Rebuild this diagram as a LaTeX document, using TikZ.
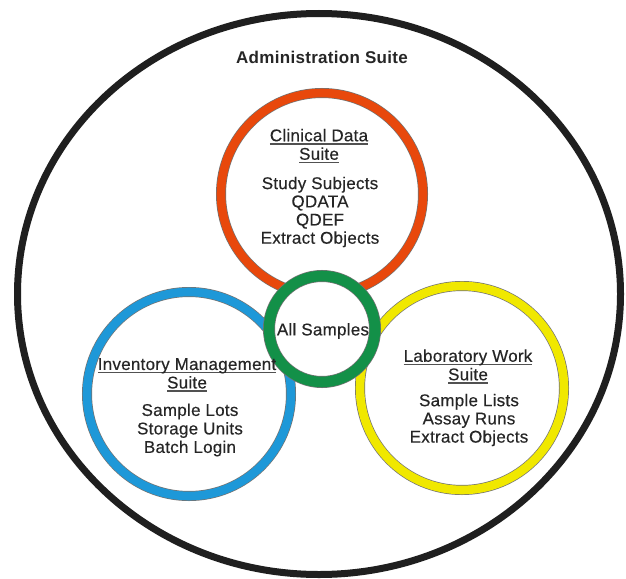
\documentclass[tikz,border=0pt]{standalone}
\usepackage{fontspec}
\setmainfont{Liberation Sans}[LetterSpace=1.8]
\newfontfamily\ringfont{Liberation Sans}[FakeBold=0.35, LetterSpace=1.5]
\definecolor{ringred}{HTML}{E8480C}
\definecolor{ringblue}{HTML}{1E98D8}
\definecolor{ringyellow}{HTML}{F0E800}
\definecolor{ringgreen}{HTML}{139048}
\definecolor{txt}{HTML}{262626}
\newcommand\myul[1]{\setbox0\hbox{#1}\rlap{\color{txt!80}\vrule height -2pt depth 3.3pt width \wd0}\box0}
\begin{document}
\begin{tikzpicture}[x=1pt,y=-1pt,
  ring/.style={draw=black!55, line width=0.7pt, double distance=8.6pt},
  lbl/.style={text=txt, align=center, inner sep=0pt, font=\ringfont\fontsize{17}{18.2}\selectfont},
  ttl/.style={text=txt, align=center, inner sep=0pt, font=\ringfont\fontsize{17}{18.5}\selectfont}]
\useasboundingbox (0,0) rectangle (626,578);
\fill[white] (0,0) rectangle (626,578);
\draw[line width=7pt, draw=black!88] (319,294) ellipse [x radius=301.5, y radius=280.5];
\node[text=txt, inner sep=0pt, font=\bfseries\fontsize{17}{19}\selectfont] (admin) at (322,57) {Administration Suite};
\draw[ring, double=ringred] (322,194) circle [radius=101];
\draw[ring, double=ringblue] (189,394) circle [radius=102];
\draw[ring, double=ringyellow] (462,388) circle [radius=102];
\draw[ring, double=ringgreen, double distance=10.6pt, fill=white] (322,329) circle [radius=53];
\node[ttl] (cdt) at (319,146) {\myul{Clinical Data}\\\myul{Suite}};
\node[lbl] (cdl) at (320,212) {Study Subjects\\QDATA\\QDEF\\Extract Objects};
\node[ttl] (imt) at (187,375) {\myul{Inventory Management}\\\myul{Suite}};
\node[lbl, font=\ringfont\fontsize{17}{18.5}\selectfont] (iml) at (190,430) {Sample Lots\\Storage Units\\Batch Login};
\node[ttl] (lwt) at (468,366.5) {\myul{Laboratory Work}\\\myul{Suite}};
\node[lbl] (lwl) at (469,420) {Sample Lists\\Assay Runs\\Extract Objects};
\node[lbl] (all) at (323,331) {All Samples};
\end{tikzpicture}
\end{document}
